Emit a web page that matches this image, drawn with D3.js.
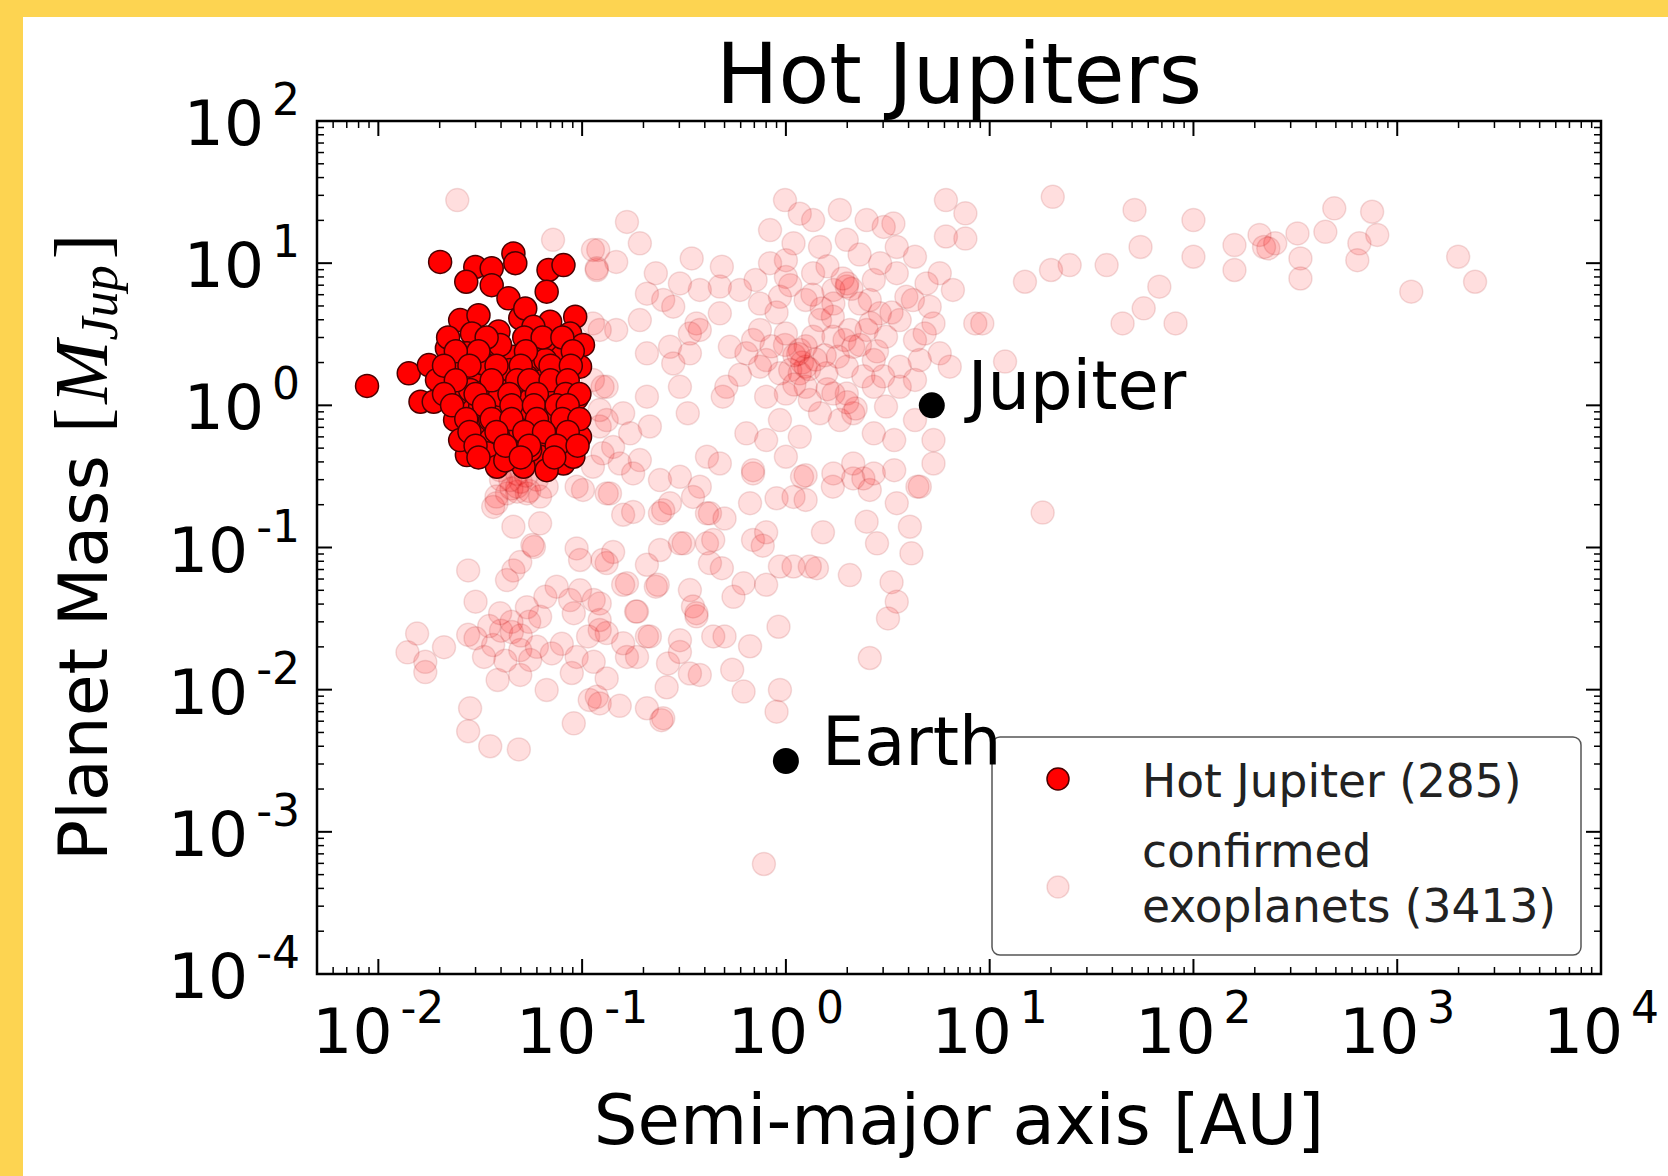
<!DOCTYPE html>
<html>
<head>
<meta charset="utf-8">
<script src="https://cdn.jsdelivr.net/npm/d3@7"></script>
<style>
  body { margin: 0; background: white; }
  svg { display: block; font-family: 'DejaVu Sans', sans-serif; }
</style>
</head>
<body>
<svg id="chart"></svg>
<script>
// [semi-major axis AU, mass M_Jup]
const hotJupiters = [
  [0.0088,1.37],[0.0201,10.2],[0.0299,9.4],[0.027,7.4],[0.036,9.2],[0.036,7.0],[0.046,11.7],[0.047,10.0],[0.0435,5.66],[0.0684,8.95],
  [0.081,9.7],[0.067,6.3],[0.0252,3.98],[0.031,4.3],[0.0497,4.1],[0.0526,4.8],[0.0697,3.87],[0.0925,4.2],[0.0288,3.2],[0.0389,3.3],
  [0.0577,3.57],[0.0873,3.2],[0.101,2.66],[0.071,2.66],[0.0217,2.52],[0.0272,2.32],[0.0375,2.2],[0.046,2.2],[0.0567,1.92],[0.0795,2.2],
  [0.0977,1.87],[0.0141,1.68],[0.0177,1.92],[0.0234,1.77],[0.0194,1.51],[0.0305,1.59],[0.0428,1.51],[0.0622,1.47],[0.0765,1.32],[0.0942,1.12],
  [0.0161,1.06],[0.0187,1.06],[0.0252,1.21],[0.0341,1.28],[0.0506,1.18],[0.0293,0.93],[0.0382,0.98],[0.0536,0.90],[0.067,0.98],[0.0906,0.79],
  [0.0316,0.71],[0.0428,0.71],[0.0577,0.69],[0.075,0.67],[0.0354,0.57],[0.0479,0.57],[0.0646,0.555],[0.0873,0.51],[0.0272,0.447],[0.0341,0.46],
  [0.046,0.46],[0.0622,0.435],[0.081,0.39],[0.0382,0.37],[0.0516,0.37],[0.067,0.35],[0.0906,0.435],[0.0316,0.98],[0.0577,2.58],[0.0328,1.97],
  [0.0536,1.59],[0.078,1.68],[0.0238,0.79],[0.0977,0.60],[0.0723,1.21],[0.0396,1.18],[0.0556,1.09],[0.0282,0.57],[0.0697,0.79],[0.0497,0.67],
  [0.0354,0.79],[0.0443,1.77],[0.066,2.08],[0.0396,2.66],[0.0252,0.57],[0.0282,1.28],[0.042,0.41],[0.0556,0.485],
  [0.022,3.0],[0.034,3.0],[0.052,3.0],[0.064,3.0],[0.08,3.0],[0.031,2.4],[0.053,2.4],[0.09,2.4],[0.024,2.4],
  [0.021,1.9],[0.028,1.9],[0.038,1.9],[0.05,1.9],[0.07,1.9],[0.088,1.9],[0.024,1.5],[0.036,1.5],[0.048,1.5],[0.055,1.5],
  [0.07,1.5],[0.085,1.5],[0.021,1.2],[0.03,1.2],[0.044,1.2],[0.06,1.2],[0.083,1.2],[0.097,1.2],[0.023,1.0],[0.033,1.0],
  [0.045,1.0],[0.058,1.0],[0.075,1.0],[0.085,1.0],[0.027,0.8],[0.036,0.8],[0.045,0.8],[0.06,0.8],[0.08,0.8],[0.097,0.8],
  [0.028,0.65],[0.038,0.65],[0.052,0.65],[0.065,0.65],[0.085,0.65],[0.03,0.52],[0.042,0.52],[0.055,0.52],[0.075,0.52],[0.095,0.52],
  [0.031,0.43],[0.05,0.43],[0.073,0.43]
];

const exoplanets = [
  // short periods, low mass
  [0.0276,0.069],[0.030,0.0416],[0.0155,0.0248],[0.0139,0.0183],[0.017,0.0157],[0.017,0.0133],[0.021,0.0199],[0.0276,0.0243],[0.0366,0.0206],[0.0385,0.0117],
  [0.0282,0.0074],[0.0276,0.0051],[0.0354,0.0040],[0.0489,0.0038],[0.046,0.069],[0.0497,0.079],[0.057,0.104],[0.0428,0.059],[0.0396,0.0345],[0.0452,0.0254],
  [0.0497,0.019],[0.0497,0.0127],[0.0556,0.0162],[0.0536,0.038],[0.0622,0.0326],[0.066,0.045],[0.075,0.053],[0.0795,0.021],[0.071,0.018],[0.091,0.0345],
  [0.0873,0.0427],[0.0977,0.050],[0.114,0.0427],[0.122,0.0309],[0.132,0.025],[0.107,0.0237],[0.094,0.017],[0.114,0.0157],[0.132,0.012],[0.089,0.0131],
  [0.067,0.00995],[0.109,0.00846],[0.122,0.008],[0.091,0.0058],[0.153,0.0077],[0.208,0.0074],[0.245,0.0061],[0.26,0.0104],[0.378,0.0127],[0.302,0.0184],
  [0.208,0.0237],[0.166,0.017],[0.186,0.0354],[0.159,0.0212],[0.094,0.0985],[0.0977,0.0817],[0.142,0.093],[0.132,0.0777],[0.166,0.056],[0.208,0.0756],
  [0.23,0.053],[0.241,0.096],[0.302,0.107],[0.338,0.0502],[0.35,0.0385],[0.364,0.0328],[0.424,0.0777],[0.44,0.0237],[0.41,0.107],[0.038,0.205],
  [0.046,0.14],[0.0622,0.148],[0.058,0.101],[0.048,0.247],[0.101,0.254],[0.137,0.24],[0.159,0.17],[0.178,0.178],[0.241,0.174],[0.27,0.205],
  [0.35,0.227],[0.424,0.174],[0.378,0.268],[0.0428,0.24],[0.0536,0.24],[0.067,0.268],[0.0366,0.193],
  [0.04,0.026],[0.045,0.03],[0.035,0.028],[0.05,0.024],[0.03,0.023],[0.055,0.03],[0.042,0.016],[0.06,0.02],[0.033,0.017],
  [0.045,0.26],[0.05,0.29],[0.04,0.3],[0.055,0.25],[0.048,0.33],[0.06,0.3],
  // around 1 AU, sub-jovian
  [1.52,0.128],[2.49,0.152],[2.8,0.107],[4.06,0.14],[4.13,0.091],[4.42,0.268],[3.5,0.205],[2.58,0.254],[2.06,0.064],[3.3,0.057],
  [3.5,0.0416],[3.17,0.0317],[2.58,0.0167],[0.92,0.0277],[0.935,0.00995],[0.9,0.0070],[0.62,0.0097],[0.545,0.0138],[0.5,0.0237],[0.667,0.0202],
  [0.8,0.0547],[0.935,0.0735],[1.09,0.0735],[1.42,0.0715],[1.31,0.0735],[0.485,0.0715],[0.553,0.045],[0.62,0.056],[0.364,0.0345],
  [0.235,0.0547],[0.184,0.0354],[0.215,0.0237],[0.302,0.0223],[0.264,0.0153],[0.25,0.0063],[0.118,0.0089],
  [0.69,0.113],[0.8,0.128],[0.77,0.103],[0.5,0.16],[0.44,0.113],[0.41,0.174],[0.667,0.205],[0.9,0.222],[1.09,0.227],[1.25,0.216],
  [1.7,0.268],[2.4,0.306],[1.25,0.322],[0.69,0.332],[0.25,0.183],[0.315,0.107],[0.159,0.0547],[0.126,0.0817],[0.122,0.0404],[0.122,0.0263],
  [0.186,0.017],[0.338,0.013],[2.14,0.306],[0.78,0.000594],
  // jovian cluster
  [0.99,27.8],[0.166,19.5],[0.192,13.8],[0.12,12.4],[0.147,10.2],[0.118,8.95],[0.345,10.8],[0.485,9.45],[0.836,17.1],[1.17,22.3],
  [1.36,20.1],[1.84,23.7],[2.49,20.1],[3.02,18.0],[3.37,19.0],[6.1,27.8],[7.6,22.4],[6.1,15.4],[7.6,14.9],[4.3,11.1],
  [5.69,8.5],[3.5,13.0],[1.99,14.6],[1.47,13.0],[1.09,13.8],[0.836,10.0],[0.71,7.62],[1.0,8.0],[1.36,8.5],[1.99,6.85],
  [1.71,6.48],[2.7,7.62],[3.5,8.5],[4.9,7.2],[6.6,6.48],[3.9,5.8],[5.08,4.94],[8.5,3.77],[5.3,3.77],[3.62,3.98],
  [2.89,4.44],[2.31,5.2],[1.71,5.2],[1.25,5.51],[0.935,5.8],[0.746,5.2],[0.595,6.48],[0.474,6.85],[0.378,6.48],[0.302,7.2],
  [0.25,5.51],[0.208,6.1],[0.28,4.94],[0.192,3.98],[0.147,3.39],[0.113,3.77],[0.474,4.44],[0.364,3.77],[0.69,2.88],[0.8,2.08],
  [1.17,2.45],[1.25,1.87],[1.36,3.04],[1.71,3.04],[2.14,2.58],[2.49,3.39],[3.1,3.04],[4.3,2.88],[5.69,2.32],[4.54,2.08],
  [3.62,1.87],[2.7,2.08],[1.99,1.87],[1.58,1.68],[0.935,1.68],[0.746,1.87],[0.64,2.32],[0.531,2.58],[0.27,2.58],[0.208,2.32],
  [0.28,1.97],[0.338,2.32],[0.49,1.15],[0.51,1.35],[0.33,0.88],[0.208,1.15],[0.159,0.88],[0.132,1.35],[0.122,0.71],[0.172,0.635],
  [0.215,0.71],[0.153,0.39],[0.192,0.412],[0.241,0.298],[0.302,0.314],[0.41,0.435],[0.474,0.39],[0.69,0.35],[0.8,0.57],[0.64,0.635],
  [0.935,0.788],[1.17,0.6],[1.47,0.88],[1.84,0.788],[1.99,1.21],[2.14,0.88],[1.71,1.21],[1.25,1.35],[1.0,1.21],[0.8,1.15],
  [2.7,1.35],[3.1,0.98],[2.7,0.635],[3.4,0.57],[4.3,0.788],[5.3,0.57],[5.3,0.39],[4.54,0.268],[3.4,0.35],[2.7,0.332],
  [2.14,0.39],[1.71,0.332],[1.2,0.314],[1.0,0.435],[6.37,1.87],[3.62,1.35],[4.3,1.51],[1.17,1.68],[0.113,1.51],[0.122,0.927],
  [0.142,0.51],[0.178,0.332],[0.113,0.37],[0.302,1.35],[0.338,3.2],[0.23,8.5],
  [1.05,7.0],[1.1,2.25],[0.99,2.66],[1.05,1.77],[1.94,2.88],[2.06,3.39],[2.31,2.66],[1.47,3.98],[0.746,3.39],[2.58,5.51],
  [1.55,2.25],[0.595,1.64],[0.378,3.39],[1.31,1.09],
  [1.2,2.0],[1.3,1.8],[1.15,2.3],[1.4,2.1],[1.25,2.6],[2.0,7.2],[2.1,6.6],[1.9,7.8],[2.2,0.95],[2.0,1.05],
  [1.6,1.3],[1.7,4.2],[1.5,4.8],[2.8,2.4],[3.0,1.6],[1.0,3.2],[0.85,2.6],[0.9,4.5],[1.1,1.4],[2.4,1.6],
  [1.8,2.2],[2.6,3.8],[3.3,4.5],[1.35,6.0],[1.0,10.5],[2.3,11.5],[1.6,9.5],[2.9,10],[4.2,5.5],[4.8,3.2],
  // wide orbits
  [20.4,29.3],[51.4,23.7],[100,20.1],[55,13.0],[100,11.1],[24.7,9.7],[20.0,8.95],[14.9,7.4],[37.5,9.7],[68,6.83],
  [57,4.81],[44.9,3.77],[81.7,3.77],[159,13.4],[159,8.95],[211,15.8],[233,12.7],[252,13.8],[324,16.2],[335,10.8],
  [335,7.8],[444,16.6],[491,24.3],[753,23.0],[798,15.8],[652,13.8],[637,10.5],[1172,6.3],[1991,11.1],[2410,7.4],
  [11.9,2.03],[9.2,3.77],[18.2,0.176],[222,13.0],
  // around the hot jupiter clump
  [0.0244,27.8],[0.072,14.6],[0.113,12.4],[0.118,9.2],[0.122,3.39],[0.126,1.35],[0.132,0.788],[0.126,0.46],[0.048,0.268],[0.038,0.228],
  [0.0622,0.228],[0.094,0.268],[0.132,0.24],[0.0444,0.298],[0.053,0.32],[0.0396,0.35]
];

const solarPlanets = [
  { name : 'Jupiter', a : 5.2, m : 1.0 },
  { name : 'Earth', a : 1.0, m : 0.00315 }
];

const xTickPowers = [ -2, -1, 0, 1, 2, 3, 4 ];
const yTickPowers = [ -4, -3, -2, -1, 0, 1, 2 ];
const legendLabels = [ [ 'Hot Jupiter (285)' ], [ 'confirmed', 'exoplanets (3413)' ] ];

const width = 1668;
const height = 1176;
const plotLeft = 317, plotRight = 1601, plotTop = 121, plotBottom = 974;
const dotRadius = 11.5;

let svg = d3.select( '#chart' ).attr( 'width', width ).attr( 'height', height );

// yellow frame round the figure
svg.append( 'rect' ).attr( 'width', width ).attr( 'height', height ).attr( 'fill', '#fdd451' );
svg.append( 'rect' ).attr( 'x', 23 ).attr( 'y', 17 )
  .attr( 'width', width - 23 ).attr( 'height', height - 17 ).attr( 'fill', 'white' );

const x = d3.scaleLog().domain( [ 0.005, 10000 ] ).range( [ plotLeft, plotRight ] );
const y = d3.scaleLog().domain( [ 1e-4, 100 ] ).range( [ plotBottom, plotTop ] );

svg.append( 'clipPath' ).attr( 'id', 'plot-clip' ).append( 'rect' )
  .attr( 'x', plotLeft ).attr( 'y', plotTop )
  .attr( 'width', plotRight - plotLeft ).attr( 'height', plotBottom - plotTop );

let plot = svg.append( 'g' ).attr( 'clip-path', 'url(#plot-clip)' );

// confirmed exoplanets, very transparent
plot.selectAll( '.exo' )
  .data( exoplanets )
  .enter().append( 'circle' )
  .attr( 'class', 'exo' )
  .attr( 'cx', function( d ) { return x( d[ 0 ] ) } )
  .attr( 'cy', function( d ) { return y( d[ 1 ] ) } )
  .attr( 'r', dotRadius )
  .attr( 'fill', 'red' ).attr( 'fill-opacity', 0.13 )
  .attr( 'stroke', '#900' ).attr( 'stroke-opacity', 0.13 ).attr( 'stroke-width', 1.5 );

// hot jupiters
plot.selectAll( '.hj' )
  .data( hotJupiters )
  .enter().append( 'circle' )
  .attr( 'class', 'hj' )
  .attr( 'cx', function( d ) { return x( d[ 0 ] ) } )
  .attr( 'cy', function( d ) { return y( d[ 1 ] ) } )
  .attr( 'r', dotRadius )
  .attr( 'fill', '#ff0000' )
  .attr( 'stroke', '#4a0000' ).attr( 'stroke-width', 1.5 );

// jupiter and earth
plot.selectAll( '.sol' )
  .data( solarPlanets )
  .enter().append( 'circle' )
  .attr( 'class', 'sol' )
  .attr( 'cx', function( d ) { return x( d.a ) } )
  .attr( 'cy', function( d ) { return y( d.m ) } )
  .attr( 'r', 13 )
  .attr( 'fill', 'black' );

// ticks on all four sides, pointing in
function isMajor( v ) {
  let l = Math.log10( v );
  return Math.abs( l - Math.round( l ) ) < 1e-6;
}

let ticks = svg.append( 'g' ).attr( 'stroke', 'black' );
let xTicks = x.ticks();
let yTicks = y.ticks();

ticks.selectAll( '.xt' )
  .data( xTicks.concat( xTicks ) )
  .enter().append( 'line' )
  .attr( 'x1', function( d ) { return x( d ) } )
  .attr( 'x2', function( d ) { return x( d ) } )
  .attr( 'y1', function( d, i ) { return i < xTicks.length ? plotBottom : plotTop } )
  .attr( 'y2', function( d, i ) {
    let len = isMajor( d ) ? 15 : 7;
    return i < xTicks.length ? plotBottom - len : plotTop + len;
  } )
  .attr( 'stroke-width', function( d ) { return isMajor( d ) ? 2 : 1.5 } );

ticks.selectAll( '.yt' )
  .data( yTicks.concat( yTicks ) )
  .enter().append( 'line' )
  .attr( 'y1', function( d ) { return y( d ) } )
  .attr( 'y2', function( d ) { return y( d ) } )
  .attr( 'x1', function( d, i ) { return i < yTicks.length ? plotLeft : plotRight } )
  .attr( 'x2', function( d, i ) {
    let len = isMajor( d ) ? 15 : 7;
    return i < yTicks.length ? plotLeft + len : plotRight - len;
  } )
  .attr( 'stroke-width', function( d ) { return isMajor( d ) ? 2 : 1.5 } );

svg.append( 'rect' )
  .attr( 'x', plotLeft ).attr( 'y', plotTop )
  .attr( 'width', plotRight - plotLeft ).attr( 'height', plotBottom - plotTop )
  .attr( 'fill', 'none' ).attr( 'stroke', 'black' ).attr( 'stroke-width', 2.5 );

// tick labels, 10 with a superscript power
function powerLabel( sel ) {
  sel.each( function( d ) {
    let t = d3.select( this );
    t.append( 'tspan' ).text( '10' );
    t.append( 'tspan' ).attr( 'dx', 8 ).attr( 'dy', -30 ).attr( 'font-size', 44 ).text( d );
  } );
}

svg.selectAll( '.xl' )
  .data( xTickPowers )
  .enter().append( 'text' )
  .attr( 'x', function( d ) { return x( Math.pow( 10, d ) ) } )
  .attr( 'y', plotBottom + 79 )
  .attr( 'text-anchor', 'middle' ).attr( 'font-size', 63 )
  .call( powerLabel );

svg.selectAll( '.yl' )
  .data( yTickPowers )
  .enter().append( 'text' )
  .attr( 'x', 300 )
  .attr( 'y', function( d ) { return y( Math.pow( 10, d ) ) + 24 } )
  .attr( 'text-anchor', 'end' ).attr( 'font-size', 63 )
  .call( powerLabel );

// title and axis labels
svg.append( 'text' )
  .attr( 'x', ( plotLeft + plotRight ) / 2 ).attr( 'y', 103 )
  .attr( 'text-anchor', 'middle' ).attr( 'font-size', 83 )
  .text( 'Hot Jupiters' );

svg.append( 'text' )
  .attr( 'x', ( plotLeft + plotRight ) / 2 ).attr( 'y', 1144 )
  .attr( 'text-anchor', 'middle' ).attr( 'font-size', 69 )
  .text( 'Semi-major axis [AU]' );

let yLabel = svg.append( 'text' )
  .attr( 'transform', 'translate(107,' + ( plotTop + plotBottom ) / 2 + ') rotate(-90)' )
  .attr( 'text-anchor', 'middle' ).attr( 'font-size', 68 );
yLabel.append( 'tspan' ).text( 'Planet Mass' );
yLabel.append( 'tspan' ).attr( 'dx', 22 ).attr( 'font-family', 'Liberation Serif' ).attr( 'font-size', 76 ).text( '[' );
yLabel.append( 'tspan' ).attr( 'dx', 4 ).attr( 'font-family', 'Liberation Serif' ).attr( 'font-style', 'italic' )
  .attr( 'font-size', 76 ).text( 'M' );
yLabel.append( 'tspan' ).attr( 'dy', 10 ).attr( 'font-family', 'Liberation Serif' ).attr( 'font-style', 'italic' )
  .attr( 'font-size', 52 ).text( 'Jup' );
yLabel.append( 'tspan' ).attr( 'dx', 6 ).attr( 'dy', -10 ).attr( 'font-family', 'Liberation Serif' )
  .attr( 'font-size', 76 ).text( ']' );

// legend
let legend = svg.append( 'g' );
legend.append( 'rect' )
  .attr( 'x', 992 ).attr( 'y', 737 ).attr( 'width', 589 ).attr( 'height', 218 ).attr( 'rx', 8 )
  .attr( 'fill', 'white' ).attr( 'stroke', '#555' ).attr( 'stroke-width', 1.5 );

legend.append( 'circle' ).attr( 'cx', 1058 ).attr( 'cy', 779 ).attr( 'r', 11 )
  .attr( 'fill', '#ff0000' ).attr( 'stroke', '#4a0000' ).attr( 'stroke-width', 1.5 );
legend.append( 'circle' ).attr( 'cx', 1058 ).attr( 'cy', 887 ).attr( 'r', 11 )
  .attr( 'fill', 'red' ).attr( 'fill-opacity', 0.13 )
  .attr( 'stroke', '#900' ).attr( 'stroke-opacity', 0.13 ).attr( 'stroke-width', 1.5 );

legend.selectAll( '.lt' )
  .data( [ legendLabels[ 0 ][ 0 ], legendLabels[ 1 ][ 0 ], legendLabels[ 1 ][ 1 ] ] )
  .enter().append( 'text' )
  .attr( 'x', 1142 )
  .attr( 'y', function( d, i ) { return [ 797, 867, 922 ][ i ] } )
  .attr( 'font-size', 45.5 ).attr( 'fill', '#222' )
  .text( function( d ) { return d } );

// names next to the black dots
svg.selectAll( '.sn' )
  .data( solarPlanets )
  .enter().append( 'text' )
  .attr( 'x', function( d ) { return x( d.a ) + 36 } )
  .attr( 'y', function( d ) { return y( d.m ) + 4 } )
  .attr( 'font-size', 67 )
  .text( function( d ) { return d.name } );
</script>
</body>
</html>
